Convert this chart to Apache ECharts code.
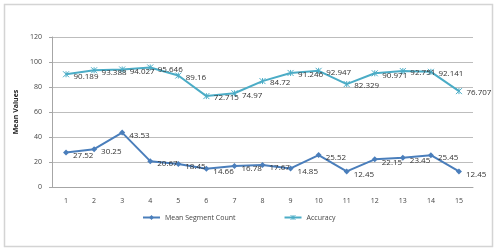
<!doctype html>
<html lang="en">
<head>
<meta charset="UTF-8">
<script src="https://cdn.jsdelivr.net/npm/echarts@6/dist/echarts.min.js"></script>
<title>Mean Values</title>
<style>
    html, body { margin: 0; padding: 0; background: #fff; }
    #main { width: 500px; height: 251px; }
</style>
</head>
<body>
<div id="main"></div>
<script>
    // x axis categories
    var categories = ['1', '2', '3', '4', '5', '6', '7', '8', '9', '10', '11', '12', '13', '14', '15'];
    // series
    var segmentCount = [27.52, 30.25, 43.53, 20.67, 18.45, 14.66, 16.78, 17.67, 14.85, 25.52, 12.45, 22.15, 23.45, 25.45, 12.45];
    var accuracy = [90.189, 93.388, 94.027, 95.646, 89.16, 72.715, 74.97, 84.72, 91.246, 92.947, 82.329, 90.971, 92.751, 92.141, 76.707];

    var myChart = echarts.init(document.getElementById('main'));
    var font = 'Open Sans, Liberation Sans, sans-serif';
    var starMark = 'path://M0,0 L10,10 M10,0 L0,10 M5,0 L5,10';

    var option = {
        animation: false,
        textStyle: { fontFamily: font },
        graphic: [{
            type: 'rect',
            shape: { x: 4.5, y: 4.5, width: 488, height: 242 },
            style: { fill: 'none', stroke: '#d4d4d4', lineWidth: 1.5 }
        }],
        grid: { left: 52, right: 27, top: 37, bottom: 64 },
        legend: {
            top: 209,
            left: 137,
            itemGap: 48,
            itemWidth: 17,
            itemHeight: 6,
            textStyle: { fontSize: 7, color: '#444', fontFamily: font },
            data: [
                'Mean Segment Count',
                {
                    name: 'Accuracy',
                    itemStyle: { color: 'transparent', borderColor: '#4bacc6', borderWidth: 1 }
                }
            ]
        },
        xAxis: {
            type: 'category',
            data: categories,
            boundaryGap: true,
            axisLine: { lineStyle: { color: '#a6a6a6' } },
            axisTick: { show: false },
            axisLabel: { fontSize: 7, color: '#444', margin: 10 }
        },
        yAxis: {
            type: 'value',
            min: 0,
            max: 120,
            interval: 20,
            name: 'Mean Values',
            nameLocation: 'middle',
            nameGap: 20,
            nameTextStyle: { fontSize: 7, fontWeight: 'bold', color: '#222' },
            axisLine: { show: true, lineStyle: { color: '#a6a6a6' } },
            axisTick: { show: true, length: 3, lineStyle: { color: '#a6a6a6' } },
            axisLabel: { fontSize: 7, color: '#444', margin: 10 },
            splitLine: { lineStyle: { color: '#bdbdbd' } }
        },
        series: [
            {
                name: 'Mean Segment Count',
                type: 'line',
                data: segmentCount,
                symbol: 'diamond',
                symbolSize: 6,
                itemStyle: { color: '#4a7ebb' },
                lineStyle: { width: 2, color: '#4a7ebb' },
                label: { show: true, position: 'right', distance: 4, fontSize: 8, color: '#333', offset: [0, 3] }
            },
            {
                name: 'Accuracy',
                type: 'line',
                data: accuracy,
                symbol: starMark,
                symbolSize: 6,
                itemStyle: { color: 'transparent', borderColor: '#4bacc6', borderWidth: 1 },
                lineStyle: { width: 2, color: '#4bacc6' },
                label: { show: true, position: 'right', distance: 4, fontSize: 8, color: '#333', offset: [0, 2] }
            }
        ]
    };
    myChart.setOption(option);
</script>
</body>
</html>
